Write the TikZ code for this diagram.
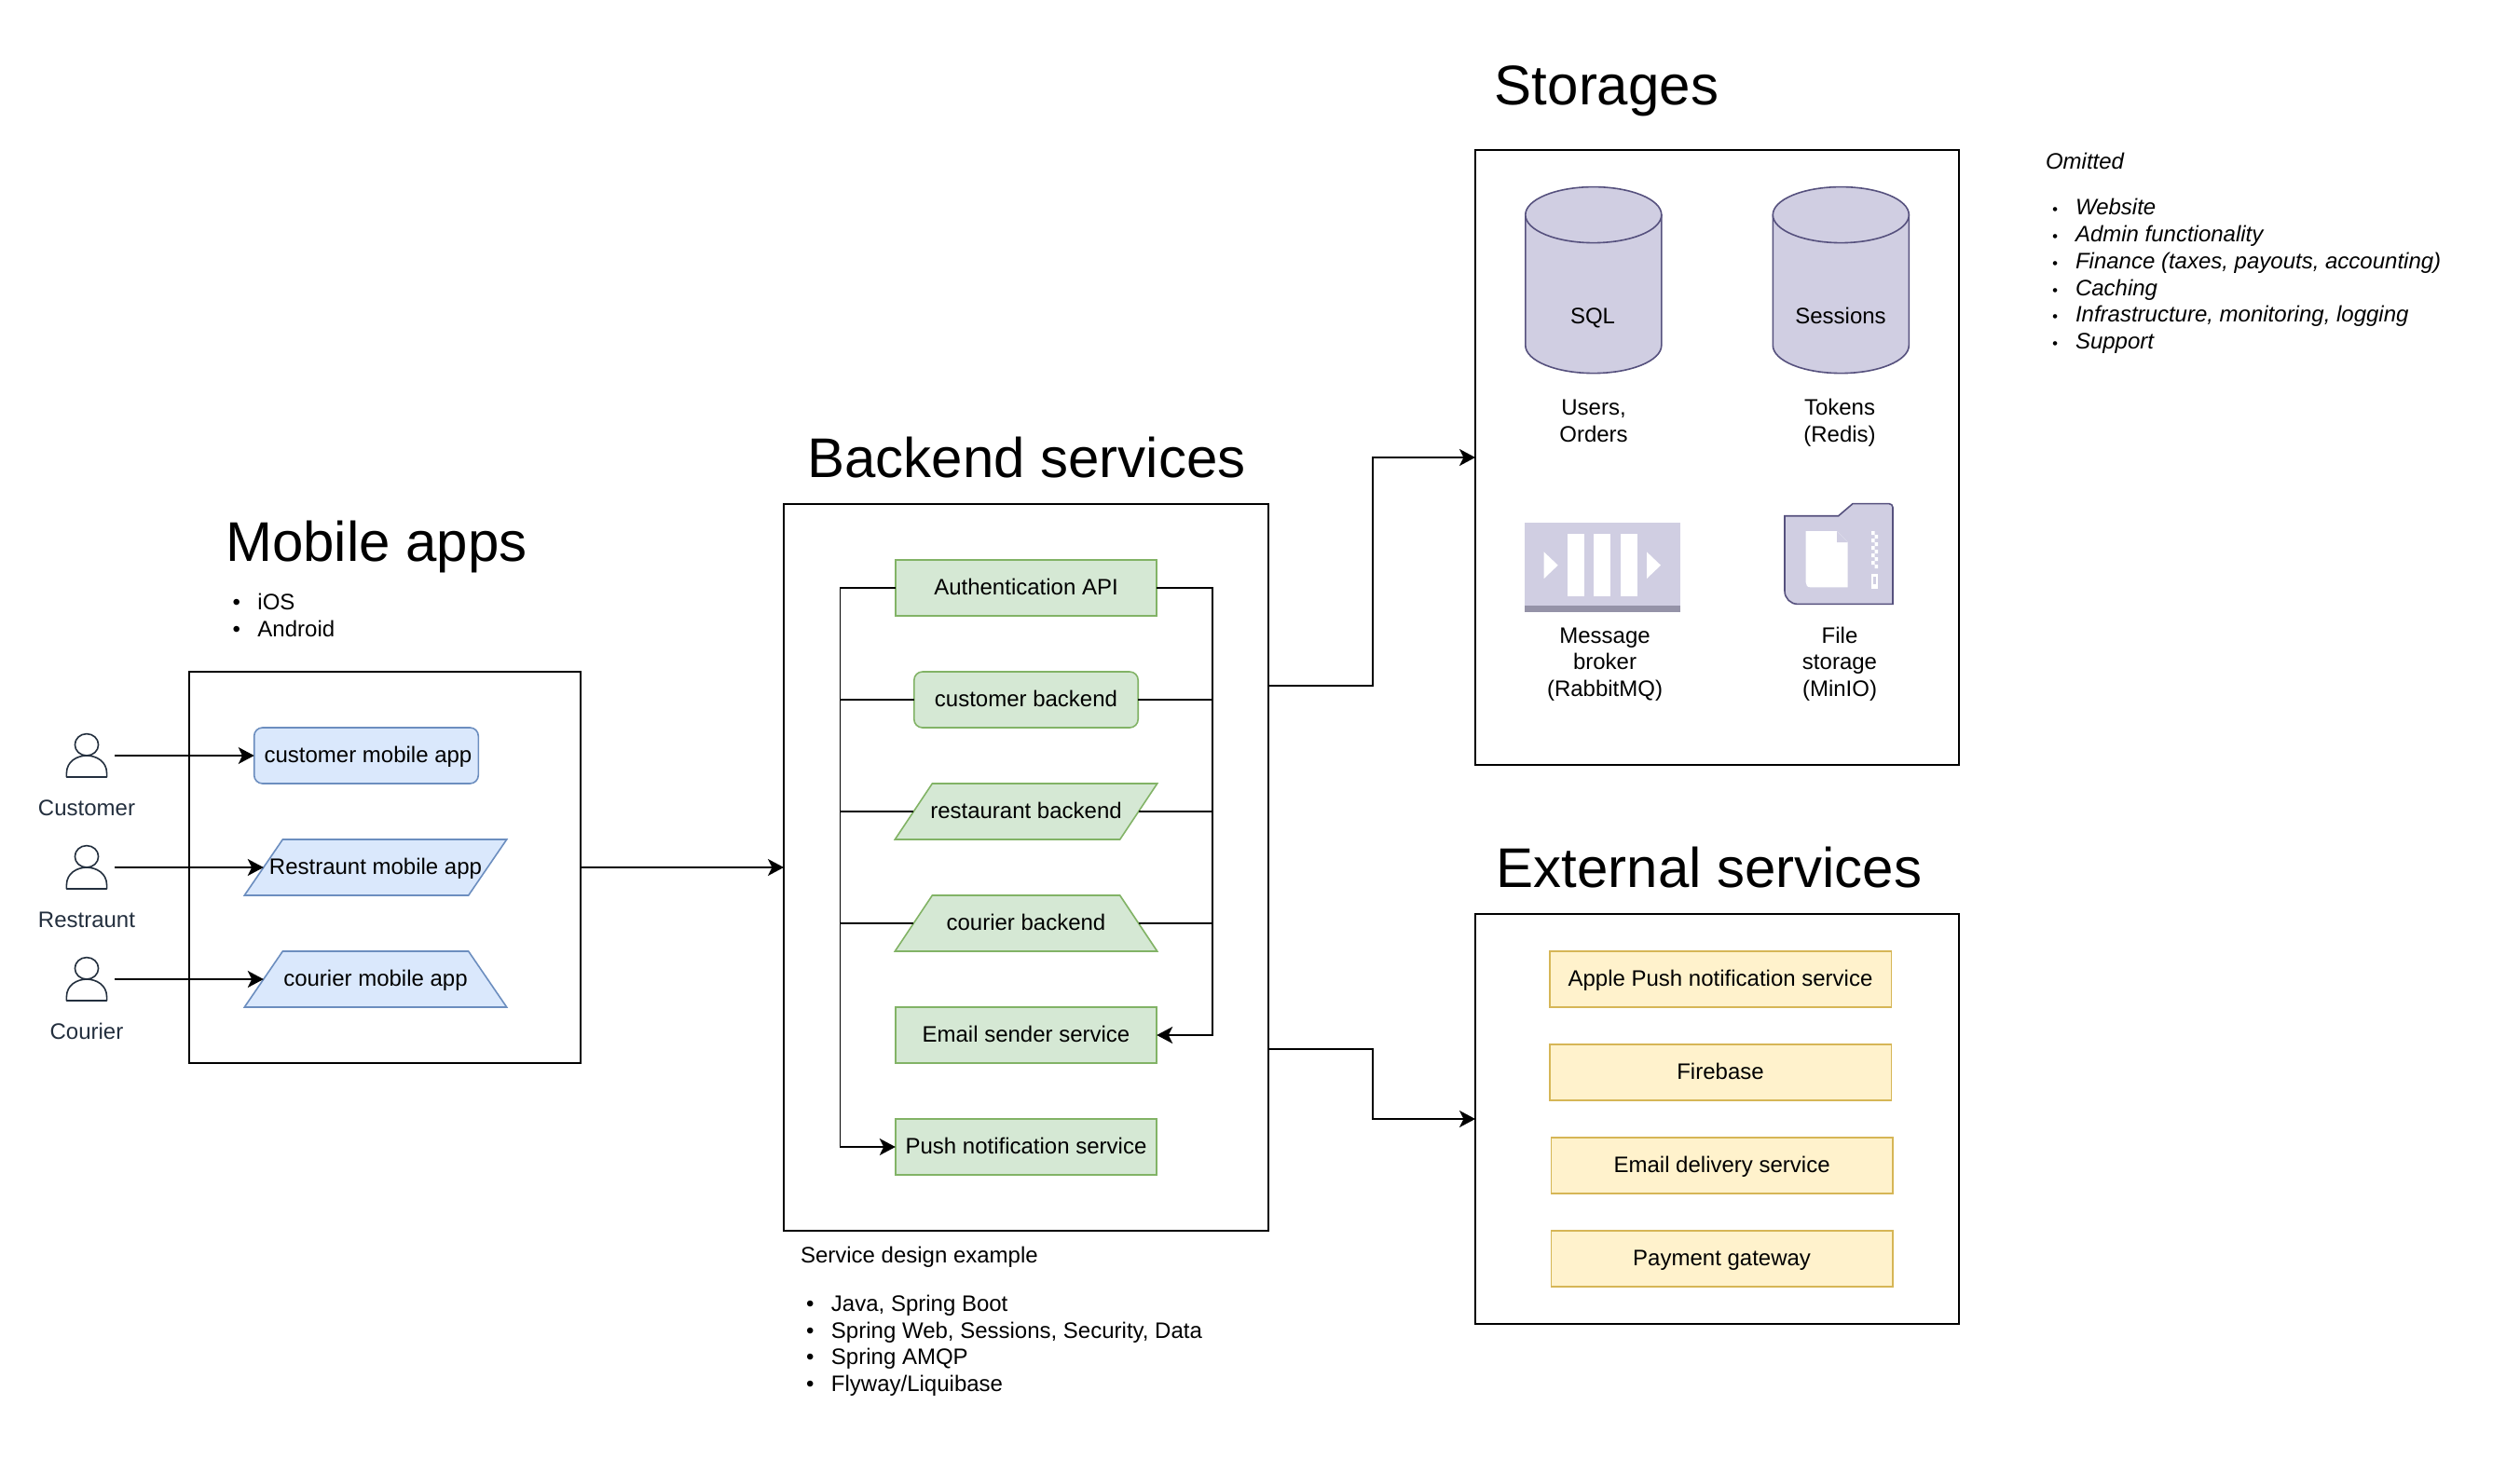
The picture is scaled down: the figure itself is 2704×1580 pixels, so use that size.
\documentclass[tikz,border=0pt]{standalone}
\usepackage{fontspec}
\setmainfont{Liberation Sans}
\usetikzlibrary{arrows.meta,shapes.geometric}
\definecolor{bluefill}{HTML}{DAE8FC}
\definecolor{blueline}{HTML}{6C8EBF}
\definecolor{greenfill}{HTML}{D5E8D4}
\definecolor{greenline}{HTML}{82B366}
\definecolor{yellowfill}{HTML}{FFF2CC}
\definecolor{yellowline}{HTML}{D6B656}
\definecolor{lilacfill}{HTML}{D0CEE2}
\definecolor{lilacline}{HTML}{56517E}
\definecolor{lilacband}{HTML}{9593A8}
\definecolor{actorink}{HTML}{232F3E}
\newcommand{\listitem}[1]{\makebox[13.5pt][l]{\textbullet}#1}
\newcommand{\smallitem}[1]{\makebox[14pt][l]{\hspace{1.5pt}\scalebox{0.7}{\textbullet}}#1}
\tikzset{
    basetext/.style={font=\fontsize{12pt}{14.35pt}\selectfont,inner sep=0pt,outer sep=0pt},
    oneline/.style={basetext,text height=7pt,text depth=0pt},
    stacked/.style={basetext,align=center,anchor=south,text depth=0pt},
    heading/.style={font=\fontsize{30pt}{34pt}\selectfont,inner sep=0pt,text height=21pt,text depth=0pt},
    groupbox/.style={draw=black,line width=0.85pt,fill=none,inner sep=0pt,outer sep=0pt},
    link/.style={line width=0.85pt,-{Stealth[length=8.5pt,width=9pt,inset=2.2pt]}},
    plainlink/.style={line width=0.85pt},
    plaque/.style={oneline,line width=0.8pt,minimum height=30pt,minimum width=#1},
    bluebox/.style={plaque=120.3pt,draw=blueline,fill=bluefill,rounded corners=4.5pt},
    bluepara/.style={plaque=140.7pt,draw=blueline,fill=bluefill,trapezium,trapezium left angle=18.85,trapezium right angle=161.15,trapezium stretches body=true},
    bluetrap/.style={plaque=140.7pt,draw=blueline,fill=bluefill,trapezium,trapezium left angle=18.85,trapezium right angle=18.85,trapezium stretches body=true},
    greenbox/.style={plaque=140.2pt,draw=greenline,fill=greenfill},
    greenround/.style={plaque=120.2pt,draw=greenline,fill=greenfill,rounded corners=4.5pt},
    greenpara/.style={plaque=140.7pt,draw=greenline,fill=greenfill,trapezium,trapezium left angle=19.29,trapezium right angle=160.71,trapezium stretches body=true},
    greentrap/.style={plaque=140.7pt,draw=greenline,fill=greenfill,trapezium,trapezium left angle=19.29,trapezium right angle=19.29,trapezium stretches body=true},
    yellowbox/.style={plaque=183.3pt,draw=yellowline,fill=yellowfill},
    actorbox/.style={inner sep=0pt,outer sep=0pt,minimum width=30pt,minimum height=23pt},
    actorname/.style={oneline,text=actorink},
    personicon/.pic={
        \draw[actorink,line width=0.8pt] (0,-11.7) ellipse [x radius=6.3pt,y radius=5.85pt];
        \draw[actorink,line width=0.8pt,line join=round] (-21.6,23) -- (21.6,23) -- (21.6,19) .. controls (21.6,6) and (10,0) .. (0,0) .. controls (-10,0) and (-21.6,6) .. (-21.6,19) -- cycle;
    },
    dbicon/.pic={
        \draw[lilacline,fill=lilacfill,line width=0.8pt] (-73,-70) -- (-73,70) .. controls (-73,86.6) and (-40.3,100) .. (0,100) .. controls (40.3,100) and (73,86.6) .. (73,70) -- (73,-70) -- cycle;
        \draw[lilacline,fill=lilacfill,line width=0.8pt] (0,-70) ellipse [x radius=36.5pt,y radius=15pt];
    }
}
\begin{document}
\begin{tikzpicture}[x=0.5pt,y=-0.5pt]
    \useasboundingbox (0,0) rectangle (2704,1580);

    \node[heading] (mobiletitle) at (404,581) {Mobile apps};
    \node[heading] (backendtitle) at (1101.5,491) {Backend services};
    \node[heading] (storagetitle) at (1724,91) {Storages};
    \node[heading] (externaltitle) at (1834,931) {External services};

    \node[basetext,align=left,anchor=west] (mobilelist) at (249.5,660.5) {\listitem{iOS}\\\listitem{Android}};
    \node[basetext,anchor=west] (servicenote) at (859,1349) {Service design example};
    \node[basetext,align=left,anchor=west] (servicelist) at (865,1444.2) {\listitem{Java, Spring Boot}\\\listitem{Spring Web, Sessions, Security, Data}\\\listitem{Spring AMQP}\\\listitem{Flyway/Liquibase}};
    \node[basetext,anchor=west,font=\fontsize{12pt}{14.35pt}\selectfont\itshape] (omittednote) at (2195,173) {Omitted};
    \node[basetext,align=left,anchor=west,font=\fontsize{12pt}{14.35pt}\selectfont\itshape] (omittedlist) at (2199,296.5) {\smallitem{Website}\\\smallitem{Admin functionality}\\\smallitem{Finance (taxes, payouts, accounting)}\\\smallitem{Caching}\\\smallitem{Infrastructure, monitoring, logging}\\\smallitem{Support}};

    \node[groupbox,minimum width=210pt,minimum height=210pt] (mobilebox) at (413,931) {};
    \node[groupbox,minimum width=260pt,minimum height=390pt] (backendbox) at (1101,931) {};
    \node[groupbox,minimum width=259.5pt,minimum height=330pt] (storagebox) at (1842.5,491) {};
    \node[groupbox,minimum width=259.5pt,minimum height=220pt] (externalbox) at (1842.5,1201) {};

    \pic at (93,811) {personicon};
    \pic at (93,931) {personicon};
    \pic at (93,1051) {personicon};
    \node[actorbox] (customericon) at (93,811) {};
    \node[actorbox] (restraunticon) at (93,931) {};
    \node[actorbox] (couriericon) at (93,1051) {};
    \node[actorname] (customername) at (93,868) {Customer};
    \node[actorname] (restrauntname) at (93,988) {Restraunt};
    \node[actorname] (couriername) at (93,1108) {Courier};

    \node[bluebox] (customerapp) at (393,811) {\hspace{2pt}customer mobile app};
    \node[bluepara] (restrauntapp) at (403,931) {\makebox[0pt]{Restraunt mobile app}};
    \node[bluetrap] (courierapp) at (403,1051) {courier mobile app};

    \node[greenbox] (authapi) at (1101,631) {Authentication API};
    \node[greenround] (customerback) at (1101,751) {customer backend};
    \node[greenpara] (restaurantback) at (1101,871) {\makebox[0pt]{restaurant backend}};
    \node[greentrap] (courierback) at (1101,991) {courier backend};
    \node[greenbox] (emailsender) at (1101,1111) {Email sender service};
    \node[greenbox] (pushsender) at (1101,1231) {Push notification service};

    \node[yellowbox] (applepush) at (1846,1051) {Apple Push notification service};
    \node[yellowbox] (firebase) at (1846,1151) {Firebase};
    \node[yellowbox] (emaildelivery) at (1847.6,1251) {Email delivery service};
    \node[yellowbox] (paymentgate) at (1847.6,1351) {Payment gateway};

    \pic at (1709.8,300.6) {dbicon};
    \pic at (1975.3,300.6) {dbicon};
    \node[oneline] (sqltext) at (1709,340.5) {SQL};
    \node[oneline] (sessiontext) at (1975,340.5) {Sessions};
    \node[stacked] (userstext) at (1710,474) {Users,\\Orders};
    \node[stacked] (tokenstext) at (1974,474) {Tokens\\(Redis)};

    \fill[lilacfill] (1636,561) rectangle (1803,650.4);
    \fill[lilacband] (1636,650.4) rectangle (1803,656.5);
    \foreach \barx in {1682,1710.3,1738.7}
        \fill[white] (\barx,572.9) rectangle (\barx+18,640.2);
    \foreach \trix in {1656.7,1767}
        \fill[white] (\trix,592.4) -- (\trix+15,606.7) -- (\trix,621) -- cycle;
    \node[stacked] (brokertext) at (1722,747.6) {Message\\broker\\(RabbitMQ)};

    \draw[lilacline,fill=lilacfill,line width=0.8pt] (1915,553.7) -- (1972.7,553.7) -- (1988,540.6) [rounded corners=2pt] -- (2031,540.6) [sharp corners] -- (2031,648.4) [rounded corners=7pt] -- (1915,648.4) [sharp corners] -- cycle;
    \fill[white] (1937.7,570) -- (1971,570) -- (1982.7,582) -- (1982.7,630.4) -- (1943,630.4) .. controls (1939,630.4) and (1937.7,628) .. (1937.7,625) -- cycle;
    \fill[lilacfill] (1971,570) -- (1982.7,582) -- (1971,582) -- cycle;
    \foreach \zipy in {570,578,586,594,602}
        \fill[white] (2008,\zipy) rectangle (2011.5,\zipy+4) (2011.5,\zipy+4) rectangle (2015,\zipy+8);
    \fill[white] (2008,615.7) rectangle (2015,632);
    \fill[lilacfill] (2009.8,619) rectangle (2013.2,627);
    \node[stacked] (filetext) at (1974,747.6) {File\\storage\\(MinIO)};

    \coordinate (leftbus) at (901.5,631);
    \coordinate (rightbus) at (1301,631);
    \coordinate (midbus) at (1472.7,736);
    \coordinate (storeout) at (1361,736);
    \coordinate (externalout) at (1361,1126);

    \draw[link] (customericon.east) -- (customerapp.west);
    \draw[link] (restraunticon.east) -- (restrauntapp.west);
    \draw[link] (couriericon.east) -- (courierapp.west);

    \draw[link] (authapi.west) -- (leftbus |- authapi.west) -- (leftbus |- pushsender.west) -- (pushsender.west);
    \draw[plainlink] (customerback.west) -- (leftbus |- customerback.west);
    \draw[plainlink] (restaurantback.west) -- (leftbus |- restaurantback.west);
    \draw[plainlink] (courierback.west) -- (leftbus |- courierback.west);
    \draw[link] (authapi.east) -- (rightbus |- authapi.east) -- (rightbus |- emailsender.east) -- (emailsender.east);
    \draw[plainlink] (customerback.east) -- (rightbus |- customerback.east);
    \draw[plainlink] (restaurantback.east) -- (rightbus |- restaurantback.east);
    \draw[plainlink] (courierback.east) -- (rightbus |- courierback.east);

    \draw[link] (mobilebox.east) -- (backendbox.west);
    \draw[link] (storeout) -- (midbus |- storeout) -- (midbus |- storagebox.west) -- (storagebox.west);
    \draw[link] (externalout) -- (midbus |- externalout) -- (midbus |- externalbox.west) -- (externalbox.west);
\end{tikzpicture}
\end{document}
